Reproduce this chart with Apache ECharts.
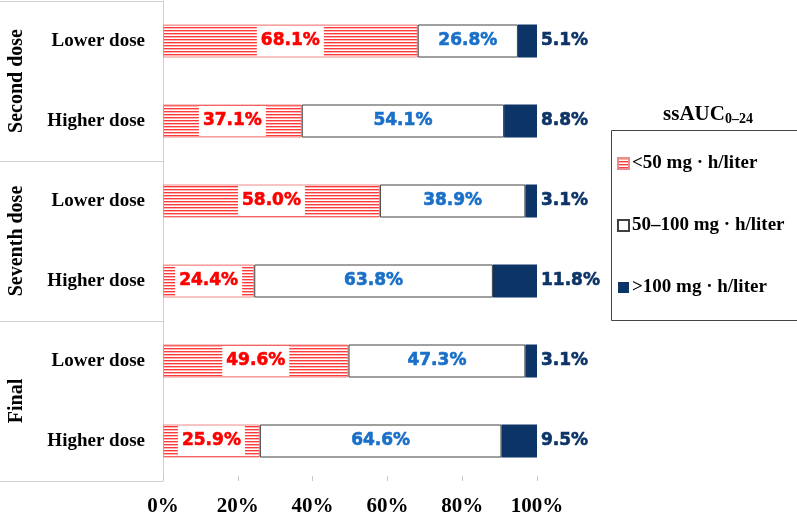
<!DOCTYPE html>
<html><head><meta charset="utf-8">
<script src="https://cdn.jsdelivr.net/npm/echarts@6/dist/echarts.min.js"></script>
<style>html,body{margin:0;padding:0;background:#fff}#c{width:797px;height:517px}</style>
</head><body><div id="c"></div>
<script>
var categories = ['Lower dose','Higher dose','Lower dose','Higher dose','Lower dose','Higher dose'];
var groups = ['Second dose','Seventh dose','Final'];
var seriesNames = ['<50 mg \u00b7 h/liter','50\u2013100 mg \u00b7 h/liter','>100 mg \u00b7 h/liter'];
var low = [68.1, 37.1, 58.0, 24.4, 49.6, 25.9];
var mid = [26.8, 54.1, 38.9, 63.8, 47.3, 64.6];
var high = [5.1, 8.8, 3.1, 11.8, 3.1, 9.5];

var pc = document.createElement('canvas');
pc.width = 4; pc.height = 3;
var g = pc.getContext('2d');
g.fillStyle = '#ffffff'; g.fillRect(0,0,4,3);
g.fillStyle = '#ff3a3a'; g.fillRect(0,0,4,1);
g.fillStyle = '#ffb4b4'; g.fillRect(0,1,4,1);
var stripe = {image: pc, repeat: 'repeat'};

var serif = '"Liberation Serif","Times New Roman",serif';
var sans = '"DejaVu Sans",Verdana,sans-serif';

var chart = echarts.init(document.getElementById('c'));
chart.setOption({
  animation: false,
  grid: {left: 163, right: 260, top: 1, bottom: 35},
  title: {
    text: '{a|ssAUC}{b|0\u201324}', left: 703, top: 99, textAlign: 'center',
    textStyle: {rich: {
      a: {fontFamily: serif, fontWeight: 'bold', fontSize: 21, color: '#000'},
      b: {fontFamily: serif, fontWeight: 'bold', fontSize: 14, color: '#000', padding: [8,0,0,0]}
    }}
  },
  graphic: [{type: 'rect', left: 609, top: 128, shape: {width: 186, height: 190},
    style: {fill: 'none', stroke: '#444', lineWidth: 1}}],
  legend: {
    orient: 'vertical', left: 612, top: 149, itemGap: 43,
    itemWidth: 11, itemHeight: 11, icon: 'rect',
    textStyle: {fontFamily: serif, fontWeight: 'bold', fontSize: 19, color: '#000', padding: [0,0,0,-2]},
    data: seriesNames
  },
  xAxis: {
    type: 'value', min: 0, max: 100, interval: 20,
    axisLine: {show: false}, splitLine: {show: false},
    axisTick: {show: true, inside: true, length: 5, lineStyle: {color: '#c8c8c8'}},
    axisLabel: {formatter: '{value}%', fontFamily: serif, fontWeight: 'bold', fontSize: 21, color: '#000', margin: 15}
  },
  yAxis: [{
    type: 'category', data: categories, inverse: true,
    axisLine: {show: true, lineStyle: {color: '#d0d0d0'}}, axisTick: {show: false},
    axisLabel: {fontFamily: serif, fontWeight: 'bold', fontSize: 19, color: '#000', margin: 18}
  }, {
    type: 'category', data: groups, inverse: true, position: 'left',
    axisLine: {show: false},
    axisTick: {show: true, length: 163, lineStyle: {color: '#d0d0d0'}},
    axisLabel: {rotate: 90, fontFamily: serif, fontWeight: 'bold', fontSize: 20, color: '#000', margin: 136}
  }],
  series: [{
    name: seriesNames[0], type: 'bar', stack: 's', data: low, barWidth: 33,
    itemStyle: {color: stripe, borderColor: '#f08a8a', borderWidth: 1},
    label: {show: true, position: 'inside', formatter: function(p){return p.value.toFixed(1)+'%';},
      color: '#ff0000', fontFamily: sans, fontWeight: 'bold', fontSize: 17,
      textBorderColor: '#ff0000', textBorderWidth: 0.6,
      backgroundColor: '#fff', padding: [7,4,6,4]}
  }, {
    name: seriesNames[1], type: 'bar', stack: 's', data: mid,
    itemStyle: {color: '#fff', borderColor: '#404040', borderWidth: 1},
    label: {show: true, position: 'inside', formatter: function(p){return p.value.toFixed(1)+'%';},
      color: '#1a70c8', fontFamily: sans, fontWeight: 'bold', fontSize: 17,
      textBorderColor: '#1a70c8', textBorderWidth: 0.6}
  }, {
    name: seriesNames[2], type: 'bar', stack: 's', data: high,
    itemStyle: {color: '#0d3466'},
    label: {show: true, position: 'right', distance: 4, formatter: function(p){return p.value.toFixed(1)+'%';},
      color: '#0d3466', fontFamily: sans, fontWeight: 'bold', fontSize: 17,
      textBorderColor: '#0d3466', textBorderWidth: 0.6}
  }]
});
</script></body></html>
